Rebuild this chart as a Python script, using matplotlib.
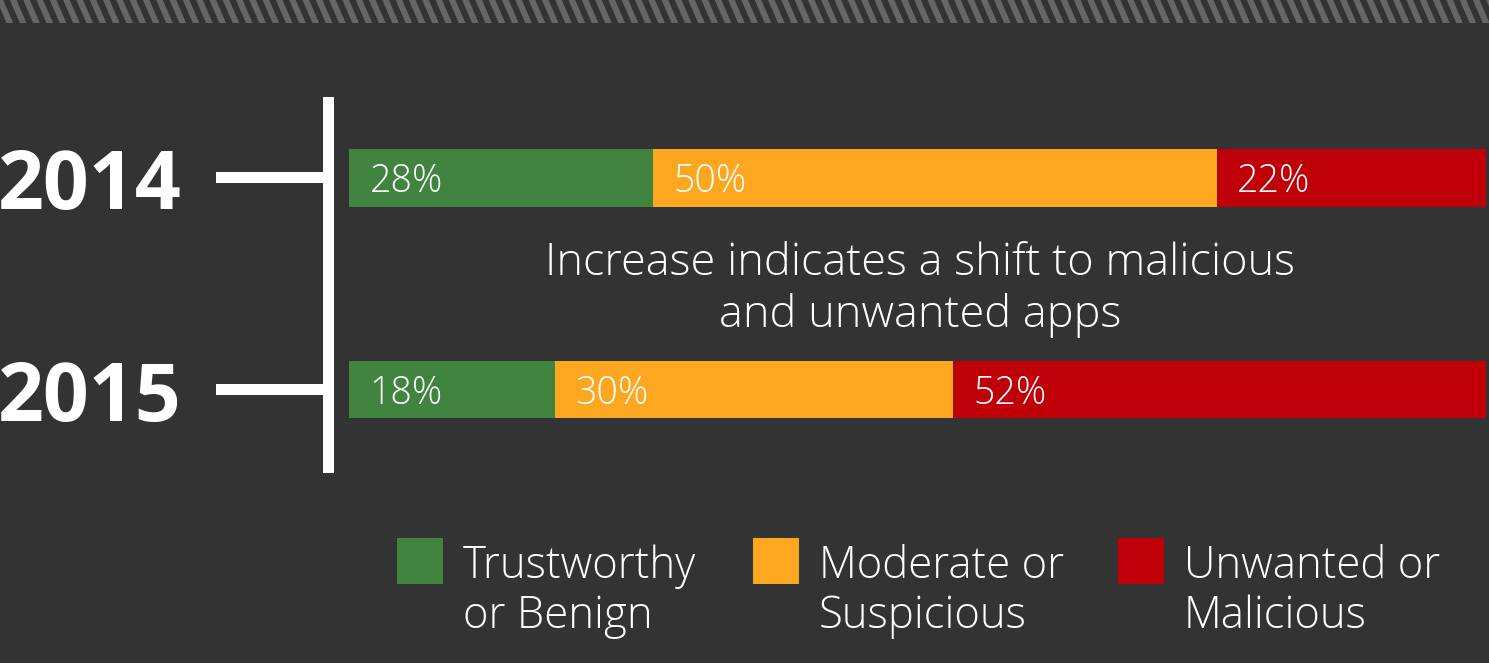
import numpy as np
import matplotlib
matplotlib.use("Agg")
import matplotlib.pyplot as plt
from matplotlib.patches import Rectangle, Polygon

years = ["2014", "2015"]
categories = ["Trustworthy\nor Benign", "Moderate or\nSuspicious", "Unwanted or\nMalicious"]
# segment widths as drawn in the picture (share of full bar length)
widths_2014 = [26.7, 49.6, 23.7]
widths_2015 = [18.1, 35.0, 46.9]
labels_2014 = ["28%", "50%", "22%"]
labels_2015 = ["18%", "30%", "52%"]
colors = ["#41843f", "#fda620", "#c00008"]
note = "Increase indicates a shift to malicious\nand unwanted apps"

BG = "#333333"
W, H = 1489, 663
plt.rcParams['font.family'] = ['Open Sans', 'DejaVu Sans']

fig = plt.figure(figsize=(W / 100, H / 100), dpi=100, facecolor=BG)

# overlay in pixel coordinates for the decorations
ov = fig.add_axes([0, 0, 1, 1])
ov.set_xlim(0, W)
ov.set_ylim(H, 0)
ov.axis("off")
ov.set_facecolor(BG)

# hatched band at the top
band_h = 23
step = 13.3
for x0 in np.arange(-30, W + 20, step):
    ov.add_patch(Polygon([(x0, 0), (x0 + 6.6, 0), (x0 + 6.6 + 10, band_h), (x0 + 10, band_h)],
                         closed=True, color="#666666", lw=0))

# bracket
ov.add_patch(Rectangle((323, 97), 11, 376, color="white", lw=0))
ov.add_patch(Rectangle((216, 172), 110, 11, color="white", lw=0))
ov.add_patch(Rectangle((216, 384), 110, 11, color="white", lw=0))
ov.text(-2, 188, years[0], color="white", fontsize=58, fontweight="bold", va="center", ha="left")
ov.text(-2, 400, years[1], color="white", fontsize=58, fontweight="bold", va="center", ha="left")

ov.text(920, 290, note, color="white", fontsize=32.5, fontweight="light",
        ha="center", va="center", linespacing=1.2)

# legend
sq_x = [397, 753, 1118]
for c, lab, x in zip(colors, categories, sq_x):
    ov.add_patch(Rectangle((x, 538), 46, 46, color=c, lw=0))
    ov.text(x + 66, 592, lab, color="white", fontsize=31.5, fontweight="light",
            ha="left", va="center", linespacing=1.17)

# bars
ax = fig.add_axes([349 / W, 1 - 450 / H, 1137 / W, 330 / H])
ax.patch.set_alpha(0)
ax.axis("off")
ax.set_xlim(0, 100)
ax.set_ylim(1.286, -0.274)

for i, (ws, labs) in enumerate([(widths_2014, labels_2014), (widths_2015, labels_2015)]):
    left = 0
    for w, lab, c in zip(ws, labs, colors):
        ax.barh(i, w, left=left, height=0.274, color=c, lw=0)
        ax.text(left + 1.8, i + 0.02, lab, color="white", fontsize=27, fontweight="light",
                va="center", ha="left")
        left += w

fig.savefig("out.png", dpi=100, facecolor=BG)
